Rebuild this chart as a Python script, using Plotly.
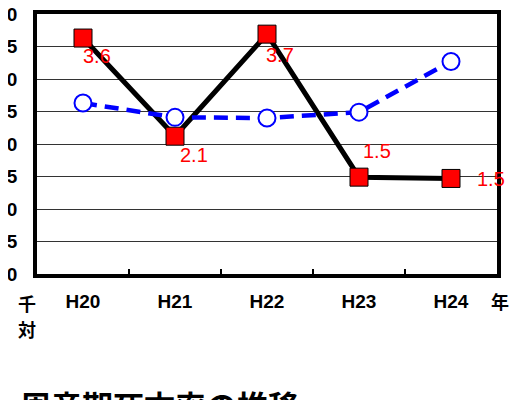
import plotly.graph_objects as go

# ---- data ----
years = ["H20", "H21", "H22", "H23", "H24"]
perinatal_rate = [3.63, 2.12, 3.69, 1.49, 1.47]     # red squares (labelled)
comparison_rate = [2.63, 2.41, 2.40, 2.49, 3.27]    # blue open circles
y_ticks = [0.0, 0.5, 1.0, 1.5, 2.0, 2.5, 3.0, 3.5, 4.0]
title_text = "周産期死亡率の推移"
unit_chars = ["千", "対"]
x_unit_text = "年"

# label offsets (pixels) for the red value labels
label_dx = [14, 19, 13, 18, 40]
label_dy = [-18, -19, -21, 26, -1]

LAT = "Liberation Sans, Arial, sans-serif"
CJK = "Noto Sans CJK JP, sans-serif"

fig = go.Figure()

fig.add_trace(go.Scatter(
    x=years, y=perinatal_rate, mode="lines+markers",
    line=dict(color="black", width=5),
    marker=dict(symbol="square", size=18, color="#ff0000",
                line=dict(color="black", width=1)),
    showlegend=False, cliponaxis=False,
))
fig.add_trace(go.Scatter(
    x=years, y=comparison_rate, mode="lines+markers",
    line=dict(color="#0000ff", width=4.5, dash="14px,8px"),
    marker=dict(symbol="circle", size=17, color="white",
                line=dict(color="#0000ff", width=2)),
    showlegend=False, cliponaxis=False,
))

annotations = []
for i, (yr, v) in enumerate(zip(years, perinatal_rate)):
    annotations.append(dict(
        x=yr, y=v, xref="x", yref="y", text=f"{v:.1f}", showarrow=False,
        xshift=label_dx[i], yshift=label_dy[i],
        font=dict(family=LAT, size=20, color="#ff0000"),
    ))

for j, ch in enumerate(unit_chars):
    annotations.append(dict(
        x=0, y=0, xref="paper", yref="paper", text=ch, showarrow=False,
        xanchor="center", yanchor="middle", xshift=-10, yshift=-29 - 26 * j,
        font=dict(family=CJK, size=18, color="black", weight="bold"),
    ))
annotations.append(dict(
    x=1, y=0, xref="paper", yref="paper", text=x_unit_text, showarrow=False,
    xanchor="center", yanchor="middle", xshift=3, yshift=-27,
    font=dict(family=CJK, size=18, color="black", weight="bold"),
))
annotations.append(dict(
    x=0, y=0, xref="paper", yref="paper", text=title_text, showarrow=False,
    xanchor="left", yanchor="top", xshift=-19, yshift=-106,
    font=dict(family=CJK, size=31, color="black", weight="bold"),
))

fig.update_layout(
    width=525, height=400,
    margin=dict(l=28.5, r=36, t=5.5, b=134, autoexpand=False),
    paper_bgcolor="white", plot_bgcolor="white",
    annotations=annotations,
    xaxis=dict(
        type="category", range=[-0.5, 4.5], automargin=False,
        showline=True, linecolor="black", linewidth=4, mirror=True,
        showgrid=False, zeroline=False,
        tickson="boundaries", ticks="inside", ticklen=5, tickwidth=1.5,
        tickcolor="black", ticklabelstandoff=7,
        tickfont=dict(family=LAT, size=19, color="black", weight="bold"),
    ),
    yaxis=dict(
        range=[0, 4.0], tickvals=y_ticks, automargin=False,
        ticktext=[f"{t:.1f}" for t in y_ticks],
        ticklabeloverflow="allow",
        showline=True, linecolor="black", linewidth=4, mirror=True,
        showgrid=True, gridcolor="#333333", gridwidth=1, zeroline=False,
        ticks="", ticklabelstandoff=12,
        tickfont=dict(family=LAT, size=19, color="black", weight="bold"),
    ),
)

fig.write_html("out.html")
